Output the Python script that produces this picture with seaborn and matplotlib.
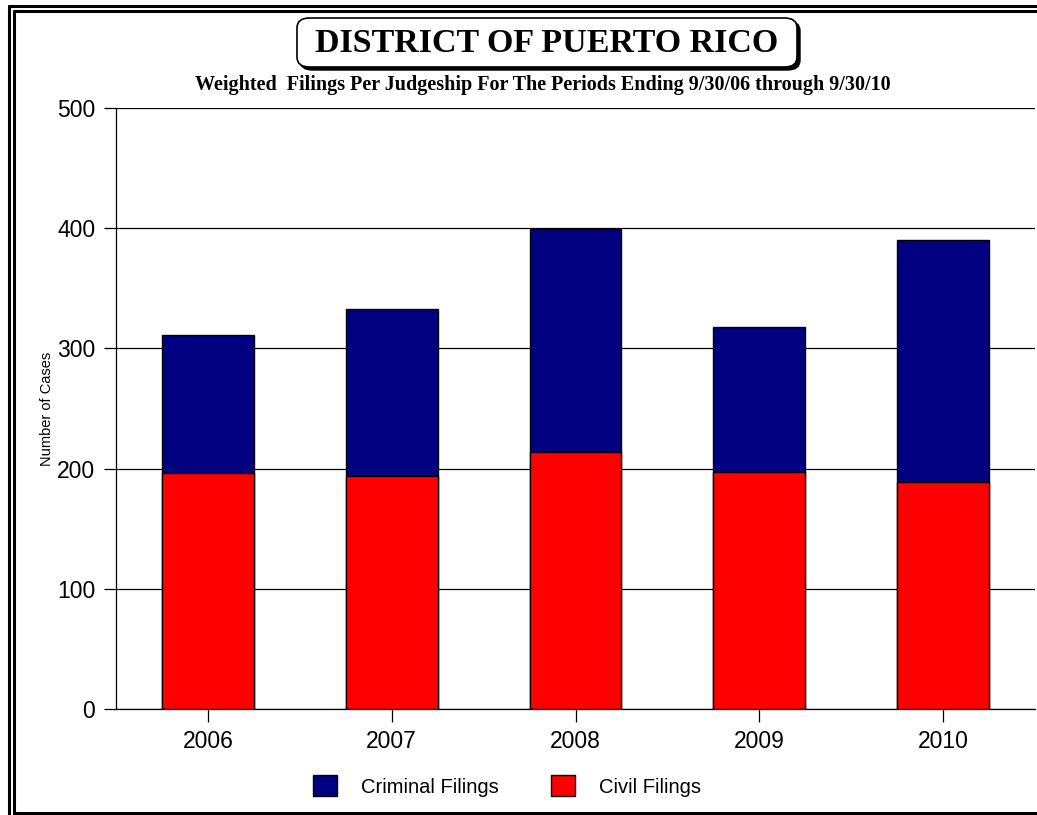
import matplotlib
matplotlib.use("Agg")
import matplotlib.pyplot as plt
from matplotlib.patches import FancyBboxPatch, Patch
from matplotlib.lines import Line2D
import pandas as pd
import seaborn as sns

years = ["2006", "2007", "2008", "2009", "2010"]
civil = [196, 194, 214, 197, 189]
criminal = [115, 139, 185, 121, 201]

NAVY = "#000080"
RED = "#FF0000"
W, H = 1037, 815

sns.set_theme(style="white")
plt.rcParams["font.family"] = ["Liberation Sans", "DejaVu Sans"]
plt.rcParams["text.color"] = "black"
plt.rcParams["axes.labelcolor"] = "black"

df = pd.DataFrame({"year": years, "civil": civil, "criminal": criminal})
df["total"] = df["civil"] + df["criminal"]

fig = plt.figure(figsize=(W / 100, H / 100), dpi=100)
ax = fig.add_axes([116 / W, 1 - 709 / H, (1035 - 116) / W, (709 - 108) / H])


def fx(px):
    return px / W


def fy(py):
    return 1 - py / H


# stacked bars: total first (navy), civil drawn over it (red)
sns.barplot(data=df, x="year", y="total", color=NAVY, saturation=1, width=0.5,
            edgecolor="black", linewidth=1, ax=ax, zorder=3)
sns.barplot(data=df, x="year", y="civil", color=RED, saturation=1, width=0.5,
            edgecolor="black", linewidth=1, ax=ax, zorder=3)

ax.set_xlim(-0.5, 4.5)
ax.set_ylim(0, 500)
ax.set_yticks(range(0, 501, 100))
ax.yaxis.grid(True, color="black", linewidth=0.9, zorder=0)
ax.set_axisbelow(True)
for s in ["top", "right"]:
    ax.spines[s].set_visible(False)
for s in ["left", "bottom"]:
    ax.spines[s].set_color("black")
    ax.spines[s].set_linewidth(0.9)
ax.tick_params(axis="both", which="major", labelsize=16.5, length=9, width=0.9,
               color="black", labelcolor="black", bottom=True, left=True, pad=6)
ax.set_xlabel("")
ax.set_ylabel("Number of Cases", fontsize=10.5, color="black")
ax.yaxis.set_label_coords(-0.068, 0.5)

# title box with shadow
shadow = FancyBboxPatch((fx(300), fy(70)), fx(800) - fx(300), fy(21) - fy(70),
                        boxstyle="round,pad=0,rounding_size=0.012",
                        transform=fig.transFigure, fc="black", ec="black", lw=1)
box = FancyBboxPatch((fx(297), fy(67)), fx(797) - fx(297), fy(18) - fy(67),
                     boxstyle="round,pad=0,rounding_size=0.012",
                     transform=fig.transFigure, fc="white", ec="black", lw=1.2)
fig.patches.extend([shadow, box])
fig.text(fx(547), fy(44), "DISTRICT OF PUERTO RICO", ha="center", va="center",
         fontsize=24.5, fontweight="bold", family="Liberation Serif", color="black")
fig.text(fx(543), fy(85), "Weighted  Filings Per Judgeship For The Periods Ending 9/30/06 through 9/30/10",
         ha="center", va="center", fontsize=14.5, fontweight="bold", family="Liberation Serif",
         color="black")

# legend
handles = [Patch(facecolor=NAVY, edgecolor="black", label="Criminal Filings"),
           Patch(facecolor=RED, edgecolor="black", label="Civil Filings")]
fig.legend(handles=handles, loc="center", bbox_to_anchor=(fx(507), fy(786)), ncol=2,
           frameon=False, fontsize=14.5, handlelength=1.2, handleheight=1.2,
           handletextpad=1.2, columnspacing=2.6)

# double frame around the picture
lw = 2.2
for px in [8.5, 13.5]:
    fig.lines.append(Line2D([fx(px), fx(px)], [fy(5.5 if px < 10 else 10.5), fy(815)],
                            transform=fig.transFigure, color="black", lw=lw))
for py, x0 in [(5.5, 8.5), (10.5, 13.5)]:
    fig.lines.append(Line2D([fx(x0), fx(W)], [fy(py), fy(py)],
                            transform=fig.transFigure, color="black", lw=lw))
fig.lines.append(Line2D([fx(13.5), fx(W)], [fy(812.5), fy(812.5)],
                        transform=fig.transFigure, color="black", lw=lw))

fig.savefig("out.png", dpi=100, facecolor="white")
